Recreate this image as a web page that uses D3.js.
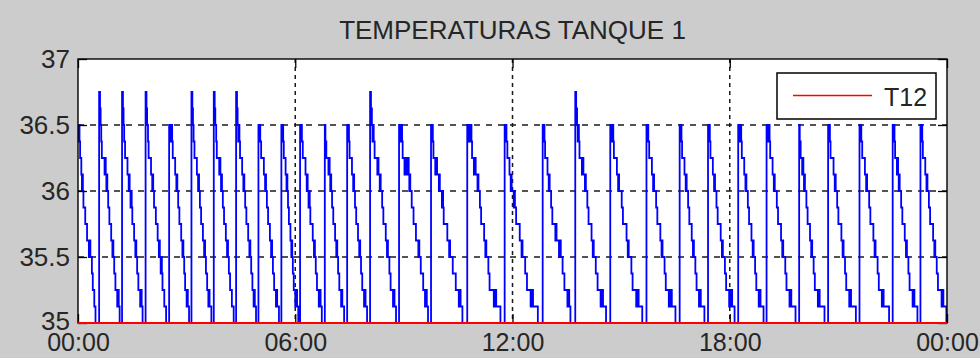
<!DOCTYPE html>
<html>
<head>
<meta charset="utf-8">
<script src="https://cdn.jsdelivr.net/npm/d3@7"></script>
<style>
  html, body { margin: 0; padding: 0; background: #cccccc; }
  svg { display: block; }
  text { font-family: "Liberation Sans", Arial, sans-serif; fill: #262626; }
</style>
</head>
<body>
<svg id="chart" width="980" height="358"></svg>
<script>
// ---- data -------------------------------------------------------------
const chartTitle = "TEMPERATURAS TANQUE 1";

// time in minutes since 00:00
const xTickMinutes = [0, 360, 720, 1080, 1440];
const xTickLabels  = ["00:00", "06:00", "12:00", "18:00", "00:00"];

const yTicks      = [35, 35.5, 36, 36.5, 37];
const yTickLabels = ["35", "35.5", "36", "36.5", "37"];

const legendLabels = ["T12"];

// T12 reference line (°C)
const t12 = [[0, 35], [1440, 35]];

// tank 1 temperature, step changes [minute, °C] — one row per heating cycle
const tanque1 = [
  [0,36.5],[1,36.375],[1.5,36.5],[2.5,36.375],[3.5,36.25],[5.5,36.125],[6.5,36],[7.3,36.125],[8.1,36],[9,35.875],[12,35.75],[15,35.625],[18,35.5],[19.5,35.625],[20.5,35.5],[23,35.375],[24.5,35.25],[27,35.125],[29,35],
  [35,36.75],[36.5,36.625],[37.5,36.5],[38.5,36.375],[39.5,36.25],[44,36.125],[45,36.25],[46,36.125],[47,36],[47.8,36.125],[48.6,36],[50,35.875],[52,35.75],[55,35.625],[57,35.5],[57.8,35.625],[58.6,35.5],[60,35.375],[62,35.25],[65,35.125],[66.5,35.25],[67.5,35.125],[69,35],
  [73,36.75],[74.5,36.625],[75.5,36.5],[76.5,36.375],[78,36.25],[82,36.125],[84,36],[84.8,36.125],[85.6,36],[87,35.875],[88,36],[89,35.875],[90,35.75],[93,35.625],[95,35.5],[95.8,35.625],[96.6,35.5],[98,35.375],[100,35.25],[103,35.125],[104.5,35.25],[105.5,35.125],[107,35],
  [112,36.75],[113.5,36.625],[114.5,36.5],[116,36.375],[117,36.25],[121,36.125],[123,36],[123.8,36.125],[124.6,36],[126,35.875],[129,35.75],[132,35.625],[134,35.5],[134.8,35.625],[135.6,35.5],[137,35.375],[138,35.5],[139,35.375],[140,35.25],[143,35.125],[146,35],
  [151,36.5],[152,36.375],[153,36.5],[154,36.375],[155,36.5],[156,36.375],[157,36.25],[161,36.125],[163,36],[163.8,36.125],[164.6,36],[166,35.875],[168,35.75],[171,35.625],[173,35.5],[173.8,35.625],[174.6,35.5],[176,35.375],[177.5,35.25],[180,35.125],[181,35.25],[182,35.125],[184,35],
  [188,36.75],[189.5,36.625],[190.5,36.5],[191.5,36.375],[193,36.25],[197,36.125],[199,36],[199.8,36.125],[200.6,36],[202,35.875],[204,35.75],[207,35.625],[209,35.5],[209.8,35.625],[210.6,35.5],[212,35.375],[214,35.25],[216,35.125],[217,35.25],[218,35.125],[221,35],
  [225,36.75],[226.5,36.625],[227.5,36.5],[229,36.375],[230,36.25],[234,36.125],[235,36.25],[236,36.125],[237,36],[237.8,36.125],[238.6,36],[240,35.875],[242,35.75],[245,35.625],[247,35.5],[247.8,35.625],[248.6,35.5],[250,35.375],[252,35.25],[255,35.125],[258,35],
  [262,36.75],[263.5,36.625],[264.5,36.5],[265.5,36.375],[266.5,36.5],[267.5,36.375],[268.5,36.25],[272,36.125],[274,36],[274.8,36.125],[275.6,36],[277,35.875],[279,35.75],[282,35.625],[284,35.5],[284.8,35.625],[285.6,35.5],[287,35.375],[289,35.25],[291,35.125],[292,35.25],[293,35.125],[295,35],
  [299,36.5],[300,36.375],[301,36.5],[302,36.375],[303.5,36.25],[308,36.125],[310,36],[310.8,36.125],[311.6,36],[313,35.875],[315,35.75],[318,35.625],[320,35.5],[320.8,35.625],[321.6,35.5],[323,35.375],[325,35.25],[328,35.125],[329,35.25],[330,35.125],[333,35],
  [337,36.5],[338,36.375],[339,36.5],[340,36.375],[341,36.25],[344,36.125],[345.5,36],[346.3,36.125],[347,36],[348,35.875],[349.5,35.75],[352,35.625],[353.5,35.5],[354.3,35.625],[355,35.5],[356,35.375],[357.5,35.25],[360,35.125],[362,35.25],[363,35.125],[365,35],
  [368,36.5],[369,36.375],[370,36.5],[371,36.375],[372.5,36.25],[377,36.125],[379,36],[379.8,36.125],[380.6,36],[382,35.875],[383,36],[384,35.875],[385,35.75],[389,35.625],[391,35.5],[391.8,35.625],[392.6,35.5],[394,35.375],[396,35.25],[399,35.125],[401,35.25],[402,35.125],[404,35],
  [409,36.5],[410,36.375],[411.5,36.25],[415,36.125],[416,36.25],[417,36.125],[418,36],[418.8,36.125],[419.6,36],[421,35.875],[423,35.75],[426,35.625],[428,35.5],[428.8,35.625],[429.6,35.5],[431,35.375],[433,35.25],[436,35.125],[437,35.25],[438,35.125],[441,35],
  [446,36.5],[447,36.375],[448,36.5],[449,36.375],[450,36.25],[454,36.125],[456,36],[456.8,36.125],[457.6,36],[459,35.875],[461,35.75],[464,35.625],[466,35.5],[466.8,35.625],[467.6,35.5],[469,35.375],[471,35.25],[474,35.125],[475.5,35.25],[476.5,35.125],[479,35],
  [484,36.75],[485.5,36.625],[487,36.5],[488,36.375],[489,36.5],[490,36.375],[491.5,36.25],[496,36.125],[497,36.25],[498,36.125],[500,36],[500.8,36.125],[501.6,36],[504,35.875],[506,35.75],[510,35.625],[512,35.5],[512.8,35.625],[513.6,35.5],[516,35.375],[518,35.25],[522,35.125],[523.5,35.25],[524.5,35.125],[527,35],
  [532,36.5],[533,36.375],[534,36.5],[535,36.375],[536,36.5],[537,36.375],[538,36.25],[541,36.125],[542,36.25],[544,36.125],[547,36.25],[548,36.125],[549,36],[549.8,36.125],[550.6,36],[553,35.875],[556,35.75],[560,35.625],[564,35.5],[564.8,35.625],[565.6,35.5],[568,35.375],[572,35.25],[575,35.125],[577,35.25],[578,35.125],[580,35],
  [585,36.5],[586,36.375],[587,36.5],[588,36.375],[589,36.25],[592,36.125],[593.5,36.25],[595,36.125],[598,36],[598.8,36.125],[599.6,36],[603,35.875],[604,36],[605,35.875],[606,35.75],[612,35.625],[615,35.5],[615.8,35.625],[616.6,35.5],[621,35.375],[626,35.25],[631,35.125],[633,35.25],[634,35.125],[637,35],
  [645,36.5],[646,36.375],[647,36.5],[648,36.375],[649,36.5],[650,36.375],[651,36.5],[652,36.375],[653,36.25],[656,36.125],[657.5,36.25],[659,36.125],[662,36],[662.8,36.125],[663.6,36],[666,35.875],[668,35.75],[673,35.625],[675,35.5],[675.8,35.625],[676.6,35.5],[680,35.375],[682,35.25],[689,35.125],[691,35.25],[693,35.125],[700,35],
  [707,36.5],[708,36.375],[709,36.5],[710,36.375],[711.5,36.25],[715,36.125],[717,36],[717.8,36.125],[718.6,36],[722,35.875],[723,36],[724,35.875],[726,35.75],[732,35.625],[735,35.5],[735.8,35.625],[736.6,35.5],[741,35.375],[744,35.25],[750,35.125],[752,35.25],[754,35.125],[762,35],
  [770,36.5],[771,36.375],[772,36.5],[773,36.375],[774,36.25],[778,36.125],[780,36],[780.8,36.125],[781.6,36],[784,35.875],[786,35.75],[791,35.625],[792,35.75],[793,35.625],[797,35.5],[799,35.625],[800,35.5],[803,35.375],[806,35.25],[811,35.125],[813,35.25],[814,35.125],[816,35],
  [824,36.75],[825.5,36.625],[827,36.5],[828,36.375],[829,36.5],[830,36.375],[831,36.25],[835,36.125],[836,36.25],[837.5,36.125],[840,36],[840.8,36.125],[841.6,36],[844,35.875],[846,35.75],[851,35.625],[853,35.5],[853.8,35.625],[854.6,35.5],[858,35.375],[861,35.25],[866,35.125],[868,35.25],[870,35.125],[875,35],
  [882,36.5],[883,36.375],[884,36.5],[885,36.375],[886,36.5],[887,36.375],[888,36.25],[893,36.125],[895,36],[895.8,36.125],[896.6,36],[901,35.875],[903,35.75],[909,35.625],[911,35.5],[911.8,35.625],[912.6,35.5],[917,35.375],[919,35.25],[925,35.125],[927,35.25],[929,35.125],[935,35],
  [942,36.5],[943,36.375],[944,36.5],[945,36.375],[946.5,36.25],[951,36.125],[953,36],[953.8,36.125],[954.6,36],[958,35.875],[960,35.75],[965,35.625],[967,35.5],[967.8,35.625],[968.6,35.5],[972,35.375],[974,35.25],[979,35.125],[980,35.25],[981,35.125],[983,35.25],[984,35.125],[990,35],
  [997,36.5],[998,36.375],[999,36.5],[1000,36.375],[1001,36.25],[1005,36.125],[1007,36],[1007.8,36.125],[1008.6,36],[1011,35.875],[1013,35.75],[1017,35.625],[1019,35.5],[1019.8,35.625],[1020.6,35.5],[1023,35.375],[1025,35.25],[1029,35.125],[1031,35.25],[1032,35.125],[1038,35],
  [1044,36.5],[1045,36.375],[1046,36.5],[1047,36.375],[1048,36.25],[1052,36.125],[1054,36],[1054.8,36.125],[1055.6,36],[1058,35.875],[1060,35.75],[1065,35.625],[1067,35.5],[1067.8,35.625],[1068.6,35.5],[1072,35.375],[1074,35.25],[1079,35.125],[1080,35.25],[1081,35.125],[1083,35.25],[1084,35.125],[1088,35],
  [1094,36.5],[1095,36.375],[1096,36.5],[1097,36.375],[1098,36.5],[1099,36.375],[1100,36.25],[1104,36.125],[1106,36],[1106.8,36.125],[1107.6,36],[1110,35.875],[1112,35.75],[1116,35.625],[1118,35.5],[1118.8,35.625],[1119.6,35.5],[1122,35.375],[1124,35.25],[1128,35.125],[1130,35.25],[1131,35.125],[1136,35],
  [1141,36.5],[1142,36.375],[1143,36.5],[1144,36.375],[1145,36.5],[1146,36.375],[1147,36.25],[1151,36.125],[1153,36],[1153.8,36.125],[1154.6,36],[1158,35.875],[1160,35.75],[1165,35.625],[1167,35.5],[1167.8,35.625],[1168.6,35.5],[1172,35.375],[1174,35.25],[1179,35.125],[1181,35.25],[1182,35.125],[1189,35],
  [1195,36.5],[1196,36.375],[1197.5,36.25],[1200,36.125],[1201,36.25],[1202,36.125],[1203,36],[1203.8,36.125],[1204.6,36],[1207,35.875],[1209,35.75],[1213,35.625],[1215,35.5],[1215.8,35.625],[1216.6,35.5],[1219,35.375],[1221,35.25],[1226,35.125],[1228,35.25],[1229,35.125],[1237,35],
  [1243,36.5],[1244,36.375],[1245,36.5],[1246,36.375],[1247,36.25],[1252,36.125],[1254,36],[1254.8,36.125],[1255.6,36],[1258,35.875],[1260,35.75],[1265,35.625],[1267,35.5],[1267.8,35.625],[1268.6,35.5],[1271,35.375],[1273,35.25],[1278,35.125],[1280,35.25],[1281,35.125],[1289,35],
  [1295,36.5],[1296,36.375],[1297,36.5],[1298,36.375],[1299.5,36.25],[1304,36.125],[1306,36],[1306.8,36.125],[1307.6,36],[1311,35.875],[1313,35.75],[1318,35.625],[1320,35.5],[1320.8,35.625],[1321.6,35.5],[1325,35.375],[1327,35.25],[1332,35.125],[1334,35.25],[1335,35.125],[1344,35],
  [1350,36.5],[1351,36.375],[1352,36.5],[1353,36.375],[1354,36.25],[1357,36.125],[1358,36.25],[1359,36.125],[1360,36],[1360.8,36.125],[1361.6,36],[1364,35.875],[1366,35.75],[1370,35.625],[1372,35.5],[1372.8,35.625],[1373.6,35.5],[1376,35.375],[1378,35.25],[1383,35.125],[1385,35.25],[1386,35.125],[1391,35],
  [1396,36.5],[1397,36.375],[1398,36.5],[1399,36.375],[1400,36.25],[1404,36.125],[1406,36],[1406.8,36.125],[1407.6,36],[1410,35.875],[1412,35.75],[1417,35.625],[1419,35.5],[1419.8,35.625],[1420.6,35.5],[1423,35.375],[1425,35.25],[1431,35.125],[1433,35.25],[1434,35.125],[1439,35],[1440,35]
];

// ---- layout -----------------------------------------------------------
const W = 980, H = 358;
const plot = { left: 78, right: 947, top: 59, bottom: 323 };
const tickLen = 9;

const svg = d3.select("#chart");

svg.append("rect").attr("width", W).attr("height", H).attr("fill", "#cccccc");

const x = d3.scaleLinear().domain([0, 1440]).range([plot.left, plot.right]);
const y = d3.scaleLinear().domain([35, 37]).range([plot.bottom, plot.top]);

svg.append("defs").append("clipPath").attr("id", "plotClip")
  .append("rect")
  .attr("x", plot.left).attr("y", plot.top - 1)
  .attr("width", plot.right - plot.left).attr("height", plot.bottom - plot.top + 2);

// axes background
svg.append("rect")
  .attr("x", plot.left).attr("y", plot.top)
  .attr("width", plot.right - plot.left).attr("height", plot.bottom - plot.top)
  .attr("fill", "#ffffff");

// grid
const grid = svg.append("g").attr("stroke", "#1a1a1a").attr("stroke-width", 1.5).attr("fill", "none");
grid.selectAll("line.h")
  .data(yTicks.slice(1, -1))
  .join("line").attr("class", "h")
  .attr("x1", plot.left).attr("x2", plot.right)
  .attr("y1", d => y(d)).attr("y2", d => y(d))
  .attr("stroke-dasharray", "6,6");
grid.selectAll("line.v")
  .data(xTickMinutes.slice(1, -1))
  .join("line").attr("class", "v")
  .attr("y1", plot.top).attr("y2", plot.bottom)
  .attr("x1", d => x(d)).attr("x2", d => x(d))
  .attr("stroke-dasharray", "4,4");

// series
const stepLine = d3.line()
  .x(d => x(d[0]))
  .y(d => y(d[1]))
  .curve(d3.curveStepAfter);

const series = svg.append("g").attr("clip-path", "url(#plotClip)");
series.append("path")
  .datum(tanque1)
  .attr("d", stepLine)
  .attr("fill", "none")
  .attr("stroke", "#0000ff")
  .attr("stroke-width", 1.8)
  .attr("stroke-linejoin", "miter");

// axes with inward ticks
function styleAxis(g, size) {
  g.select(".domain").remove();
  g.selectAll(".tick line").attr("stroke", "#000").attr("stroke-width", 1.3);
  g.selectAll("text").attr("fill", "#262626").style("font-size", size + "px")
    .style("font-family", "'Liberation Sans', Arial, sans-serif");
}

svg.append("g")
  .attr("transform", `translate(${plot.left},0)`)
  .call(d3.axisLeft(y).tickValues(yTicks).tickFormat((d, i) => yTickLabels[i])
    .tickSize(-tickLen).tickPadding(8))
  .call(styleAxis, 26)
  // lowest label sits a little higher so it clears the time labels below
  .call(g => g.selectAll("text").attr("dy", d => d === yTicks[0] ? "0.24em" : "0.33em"));

svg.append("g")
  .attr("transform", `translate(${plot.right},0)`)
  .call(d3.axisRight(y).tickValues(yTicks).tickFormat("").tickSize(-tickLen))
  .call(styleAxis, 26);

svg.append("g")
  .attr("transform", `translate(0,${plot.bottom})`)
  .call(d3.axisBottom(x).tickValues(xTickMinutes).tickFormat((d, i) => xTickLabels[i])
    .tickSize(-tickLen).tickPadding(10))
  .call(styleAxis, 25);

svg.append("g")
  .attr("transform", `translate(0,${plot.top})`)
  .call(d3.axisTop(x).tickValues(xTickMinutes).tickFormat("").tickSize(-tickLen))
  .call(styleAxis, 25);

// axes box
svg.append("rect")
  .attr("x", plot.left).attr("y", plot.top)
  .attr("width", plot.right - plot.left).attr("height", plot.bottom - plot.top)
  .attr("fill", "none").attr("stroke", "#000").attr("stroke-width", 1.4);

// T12 drawn over the frame
svg.append("path")
  .datum(t12)
  .attr("d", stepLine)
  .attr("fill", "none")
  .attr("stroke", "#ff0000")
  .attr("stroke-width", 2.2);

// title
svg.append("text")
  .attr("x", (plot.left + plot.right) / 2)
  .attr("y", 39)
  .attr("text-anchor", "middle")
  .style("font-size", "26px")
  .text(chartTitle);

// legend
const legend = svg.append("g").attr("transform", "translate(777,73)");
legend.append("rect")
  .attr("width", 159).attr("height", 46)
  .attr("fill", "#ffffff").attr("stroke", "#000").attr("stroke-width", 1.5);
legendLabels.forEach((label, i) => {
  legend.append("line")
    .attr("x1", 16).attr("x2", 95)
    .attr("y1", 22.5 + i * 30).attr("y2", 22.5 + i * 30)
    .attr("stroke", "#ff0000").attr("stroke-width", 1.5);
  legend.append("text")
    .attr("x", 107).attr("y", 33 + i * 30)
    .style("font-size", "25px")
    .text(label);
});
</script>
</body>
</html>
